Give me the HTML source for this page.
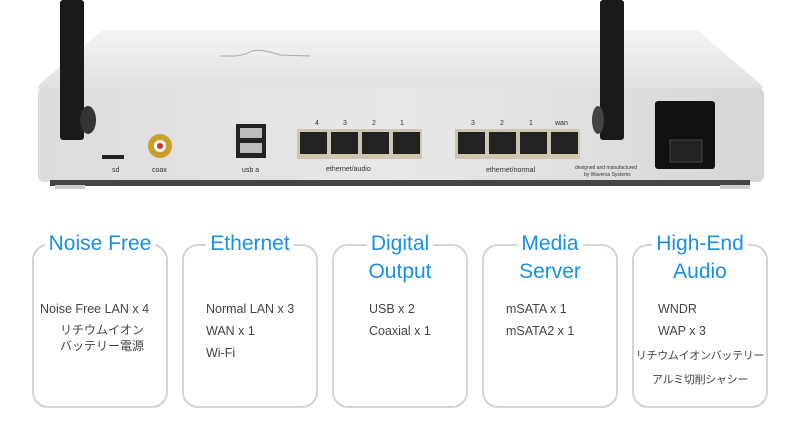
<!DOCTYPE html>
<html><head><meta charset="utf-8"><style>
*{margin:0;padding:0;box-sizing:border-box}
body{width:800px;height:430px;background:#fff;position:relative;overflow:hidden;font-family:"Liberation Sans","Noto Sans CJK JP",sans-serif}
.a{position:absolute}
.card{position:absolute;top:244px;width:136px;height:164px;border:2px solid #d4d4d4;border-radius:16px}
.t{position:absolute;left:0;right:0;text-align:center;color:#1a8fe8;font-size:21px;line-height:28px}
.t span{background:#fff;padding:0 4px}
.b{position:absolute;color:#444;font-size:12.5px;line-height:22px;white-space:nowrap}
</style></head><body>
<svg class="a" style="left:0;top:0" width="800" height="200">
<defs><linearGradient id="g" x1="0" y1="0" x2="0" y2="1"><stop offset="0" stop-color="#f4f4f4"/><stop offset="1" stop-color="#e0e0e0"/></linearGradient>
<linearGradient id="f" x1="0" y1="0" x2="1" y2="0"><stop offset="0" stop-color="#dcdcdc"/><stop offset=".5" stop-color="#e8e8e8"/><stop offset="1" stop-color="#d6d6d6"/></linearGradient></defs>
<path d="M110 30 Q105 29 100 32 L40 84 Q36 88 40 90 L760 90 Q765 88 760 84 L700 32 Q696 29 690 30 Z" fill="url(#g)"/>
<rect x="38" y="88" width="726" height="94" rx="6" fill="url(#f)"/>
<rect x="50" y="180" width="700" height="6" fill="#444"/>
<rect x="55" y="185" width="30" height="4" fill="#ccc"/><rect x="720" y="185" width="30" height="4" fill="#ccc"/>
<path d="M220 56 L235 56 Q245 55 250 52 T265 51 T280 55 L310 56" stroke="#aaa" fill="none" stroke-width="1"/>
<rect x="60" y="0" width="24" height="140" rx="3" fill="#1a1a1a"/>
<ellipse cx="88" cy="120" rx="8" ry="14" fill="#333"/>
<rect x="600" y="0" width="24" height="140" rx="3" fill="#1a1a1a"/>
<ellipse cx="598" cy="120" rx="6" ry="14" fill="#444"/>
<rect x="655" y="101" width="60" height="68" rx="3" fill="#111"/>
<rect x="670" y="140" width="32" height="22" fill="#222" stroke="#444"/>
<rect x="102" y="155" width="22" height="4" fill="#222"/>
<circle cx="160" cy="146" r="12" fill="#c9a02a"/><circle cx="160" cy="146" r="6" fill="#fff"/><circle cx="160" cy="146" r="3" fill="#c33"/>
<rect x="236" y="124" width="30" height="34" fill="#222"/><rect x="240" y="128" width="22" height="10" fill="#bbb"/><rect x="240" y="143" width="22" height="10" fill="#bbb"/>
<rect x="297" y="129" width="125" height="30" fill="#cfc6b0"/>
<rect x="455" y="129" width="125" height="30" fill="#cfc6b0"/>
<g fill="#222"><rect x="300" y="132" width="27" height="22"/><rect x="331" y="132" width="27" height="22"/><rect x="362" y="132" width="27" height="22"/><rect x="393" y="132" width="27" height="22"/>
<rect x="458" y="132" width="27" height="22"/><rect x="489" y="132" width="27" height="22"/><rect x="520" y="132" width="27" height="22"/><rect x="551" y="132" width="27" height="22"/></g>
<g font-size="7" fill="#333" font-family="Liberation Sans">
<text x="112" y="172">sd</text><text x="152" y="172">coax</text><text x="242" y="172">usb a</text>
<text x="326" y="171">ethernet/audio</text><text x="486" y="172">ethernet/normal</text>
<text x="575" y="169" font-size="5">designed and manufactured</text><text x="584" y="176" font-size="5">by Waversa Systems</text>
<text x="315" y="125">4</text><text x="343" y="125">3</text><text x="372" y="125">2</text><text x="400" y="125">1</text>
<text x="471" y="125">3</text><text x="500" y="125">2</text><text x="529" y="125">1</text><text x="555" y="125">wan</text>
</g>
</svg>
<div class="card" style="left:32px"><div class="t" style="top:-16px"><span>Noise Free</span></div>
<div class="b" style="left:6px;top:52px">Noise Free LAN x 4</div>
<div class="b" style="left:26px;top:76px;line-height:16px;font-size:12px">リチウムイオン<br>バッテリー電源</div></div>
<div class="card" style="left:182px"><div class="t" style="top:-16px"><span>Ethernet</span></div>
<div class="b" style="left:22px;top:52px">Normal LAN x 3<br>WAN x 1<br>Wi-Fi</div></div>
<div class="card" style="left:332px"><div class="t" style="top:-16px"><span>Digital</span><br>Output</div>
<div class="b" style="left:35px;top:52px">USB x 2<br>Coaxial x 1</div></div>
<div class="card" style="left:482px"><div class="t" style="top:-16px"><span>Media</span><br>Server</div>
<div class="b" style="left:22px;top:52px">mSATA x 1<br>mSATA2 x 1</div></div>
<div class="card" style="left:632px"><div class="t" style="top:-16px"><span>High-End</span><br>Audio</div>
<div class="b" style="left:24px;top:52px">WNDR<br>WAP x 3</div>
<div class="b" style="left:-2px;width:136px;text-align:center;top:98px;font-size:11px;line-height:24px;letter-spacing:-0.3px">リチウムイオンバッテリー<br>アルミ切削シャシー</div></div>
</body></html>
